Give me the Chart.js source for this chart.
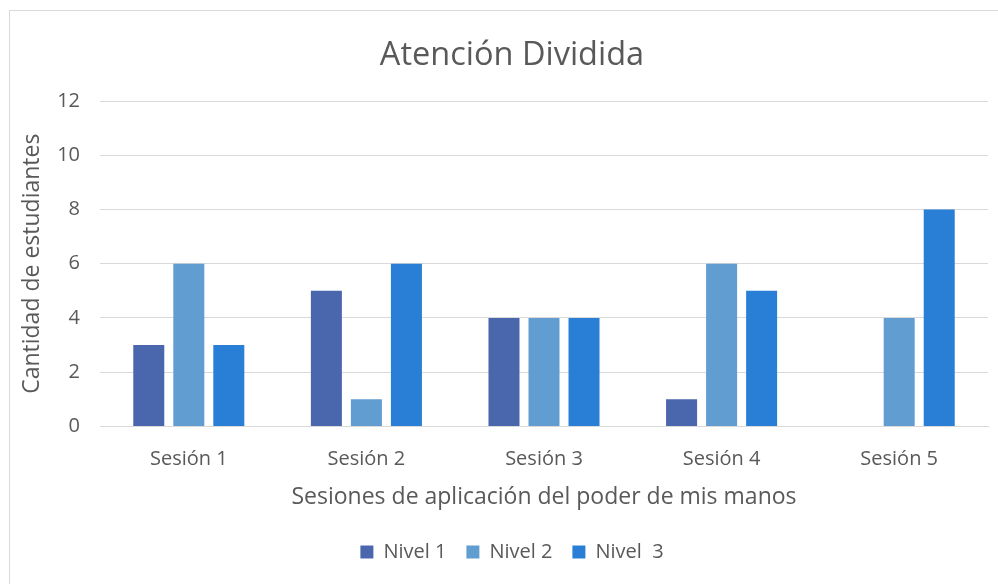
<!DOCTYPE html>
<html>
<head>
<meta charset="utf-8">
<script src="https://cdn.jsdelivr.net/npm/chart.js@4/dist/chart.umd.min.js"></script>
<style>
  body { margin: 0; background: #fff; overflow: hidden; }
  #frame { position: absolute; left: 9px; top: 10px; width: 1000px; height: 600px; border: 1px solid #d9d9d9; box-sizing: border-box; }
  #wrap { position: absolute; left: 0; top: 0; width: 998px; height: 584px; }
</style>
</head>
<body>
<div id="frame"></div>
<div id="wrap"><canvas id="chart"></canvas></div>
<script>
// data
var sesiones = ['Sesión 1', 'Sesión 2', 'Sesión 3', 'Sesión 4', 'Sesión 5'];
var nivel1 = [3, 5, 4, 1, 0];
var nivel2 = [6, 1, 4, 6, 4];
var nivel3 = [3, 6, 4, 5, 8];
var nombres = ['Nivel 1', 'Nivel 2', 'Nivel  3'];
var colores = ['#4A66AC', '#629DD1', '#297FD5'];

var font = '"Open Sans", "Noto Sans", sans-serif';
var gris = '#595959';

function serie(i, datos) {
    return {
        label: nombres[i],
        data: datos,
        backgroundColor: colores[i],
        borderWidth: 0,
        categoryPercentage: 0.676,
        barPercentage: 0.775
    };
}

var ctx = document.getElementById('chart');
window.grafico = new Chart(ctx, {
    type: 'bar',
    data: {
        labels: sesiones,
        datasets: [serie(0, nivel1), serie(1, nivel2), serie(2, nivel3)]
    },
    options: {
        responsive: true,
        maintainAspectRatio: false,
        animation: false,
        // left padding shifts title and legend centre to the right like the original
        layout: { padding: { left: 36, right: 10, top: 36, bottom: 12 } },
        plugins: {
            title: {
                display: true,
                text: 'Atención Dividida',
                color: gris,
                font: { family: font, size: 32.5, weight: 'normal' },
                padding: { top: 0, bottom: 26 }
            },
            legend: {
                position: 'bottom',
                labels: {
                    color: gris,
                    boxWidth: 13,
                    boxHeight: 13,
                    padding: 20,
                    font: { family: font, size: 20 }
                }
            },
            tooltip: { enabled: false }
        },
        scales: {
            x: {
                grid: { display: false },
                border: { color: '#d9d9d9', width: 1 },
                ticks: { color: gris, font: { family: font, size: 20 }, padding: 13 },
                title: {
                    display: true,
                    text: 'Sesiones de aplicación del poder de mis manos',
                    color: gris,
                    font: { family: font, size: 23 },
                    padding: { top: -1, bottom: 11 }
                }
            },
            y: {
                min: 0,
                max: 12,
                ticks: { stepSize: 2, color: gris, font: { family: font, size: 20 }, padding: 20 },
                grid: { color: '#d9d9d9', lineWidth: 1, drawTicks: false },
                border: { display: false },
                title: {
                    display: true,
                    text: 'Cantidad de estudiantes',
                    color: gris,
                    font: { family: font, size: 23 },
                    padding: { top: -17, bottom: 0 }
                },
                afterFit: function(scale) { scale.width = 64; }
            }
        }
    }
});
</script>
</body>
</html>
